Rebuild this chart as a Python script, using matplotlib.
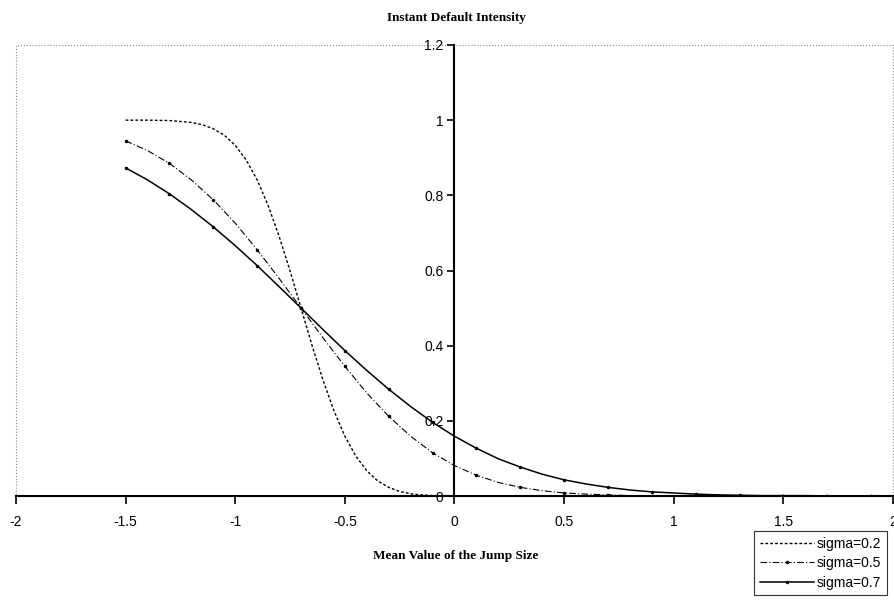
import matplotlib.pyplot as plt
from matplotlib.patches import Rectangle

# Mean value of the jump size (x) and default intensity per sigma
mu = [-1.5, -1.4, -1.3, -1.2, -1.1, -1.0, -0.9, -0.8, -0.7, -0.6,
      -0.5, -0.4, -0.3, -0.2, -0.1, 0.0, 0.1, 0.2, 0.3, 0.4,
      0.5, 0.6, 0.7, 0.8, 0.9, 1.0, 1.1, 1.2, 1.3, 1.4,
      1.5, 1.6, 1.7, 1.8, 1.9, 2.0]

# sigma=0.2 is read more densely where it drops steeply
mu_02 = [-1.5, -1.4, -1.3, -1.2, -1.15, -1.1, -1.05, -1.0, -0.95, -0.9,
         -0.85, -0.8, -0.75, -0.7, -0.65, -0.6, -0.55, -0.5, -0.45, -0.4,
         -0.35, -0.3, -0.25, -0.2, -0.15, -0.1, 0.0, 0.5, 1.0, 1.5, 2.0]
sigma_02 = [1.000, 1.000, 0.999, 0.994, 0.988, 0.977, 0.960, 0.933, 0.894, 0.841,
            0.773, 0.691, 0.599, 0.500, 0.401, 0.309, 0.227, 0.159, 0.106, 0.067,
            0.040, 0.023, 0.012, 0.006, 0.003, 0.001, 0.000, 0.000, 0.000, 0.000, 0.000]

sigma_05 = [0.945, 0.919, 0.885, 0.841, 0.788, 0.726, 0.655, 0.579, 0.500, 0.421,
            0.345, 0.274, 0.212, 0.159, 0.115, 0.081, 0.055, 0.036, 0.023, 0.014,
            0.008, 0.005, 0.003, 0.001, 0.001, 0.000, 0.000, 0.000, 0.000, 0.000,
            0.000, 0.000, 0.000, 0.000, 0.000, 0.000]

sigma_07 = [0.873, 0.841, 0.804, 0.762, 0.716, 0.666, 0.613, 0.557, 0.500, 0.443,
            0.387, 0.334, 0.284, 0.238, 0.196, 0.159, 0.127, 0.099, 0.077, 0.058,
            0.043, 0.032, 0.023, 0.016, 0.011, 0.008, 0.005, 0.003, 0.002, 0.001,
            0.001, 0.001, 0.000, 0.000, 0.000, 0.000]

x_ticks = [-2, -1.5, -1, -0.5, 0, 0.5, 1, 1.5, 2]
x_labels = ['-2', '-1.5', '-1', '-0.5', '0', '0.5', '1', '1.5', '2']
y_ticks = [0, 0.2, 0.4, 0.6, 0.8, 1, 1.2]
y_labels = ['0', '0.2', '0.4', '0.6', '0.8', '1', '1.2']

plt.rcParams['font.family'] = ['Liberation Sans', 'DejaVu Sans']

fig = plt.figure(figsize=(8.95, 6.01), dpi=100)
ax = fig.add_axes([16 / 895, 1 - 496 / 601, 877 / 895, 451 / 601])

ax.plot(mu_02, sigma_02, color='black', lw=1.0, ls=(0, (2, 1.5)), label='sigma=0.2')
ax.plot(mu, sigma_05, color='black', lw=0.8, ls=(0, (6, 2, 1, 2)),
        marker='.', markersize=3, markevery=2, label='sigma=0.5')
ax.plot(mu, sigma_07, color='black', lw=1.1, ls='-',
        marker='.', markersize=3, markevery=2, label='sigma=0.7')

ax.set_xlim(-2, 2)
ax.set_ylim(0, 1.2)

# axes crossing at the origin
for side in ['top', 'right']:
    ax.spines[side].set_visible(False)
ax.spines['left'].set_position(('data', 0))
ax.spines['left'].set_linewidth(1.5)
ax.spines['bottom'].set_linewidth(1.5)

# dotted plot area frame
ax.add_patch(Rectangle((0, 0), 1, 1, transform=ax.transAxes, fill=False,
                       ls=':', ec='#888888', lw=0.8, clip_on=False))

ax.set_xticks(x_ticks)
ax.set_xticklabels(x_labels)
ax.set_yticks(y_ticks)
ax.set_yticklabels(y_labels)
ax.tick_params(axis='x', direction='out', length=6, width=1.2, labelsize=10, pad=8)
ax.tick_params(axis='y', direction='out', length=5, width=1.2, labelsize=10, pad=3)

fig.text(456 / 895, 1 - 18 / 601, 'Instant Default Intensity', ha='center', va='center',
         fontsize=9.5, fontweight='bold', family='Liberation Serif')
fig.text(456 / 895, 1 - 556 / 601, 'Mean Value of the Jump Size', ha='center', va='center',
         fontsize=9.5, fontweight='bold', family='Liberation Serif')

leg = fig.legend(loc='upper left', bbox_to_anchor=(754 / 895, 1 - 531 / 601),
                 fontsize=10, frameon=True, fancybox=False, edgecolor='black',
                 handlelength=3.9, handletextpad=0.2, borderpad=0.4,
                 labelspacing=0.4, borderaxespad=0)
leg.get_frame().set_linewidth(0.8)

plt.savefig('out.png', dpi=100)
